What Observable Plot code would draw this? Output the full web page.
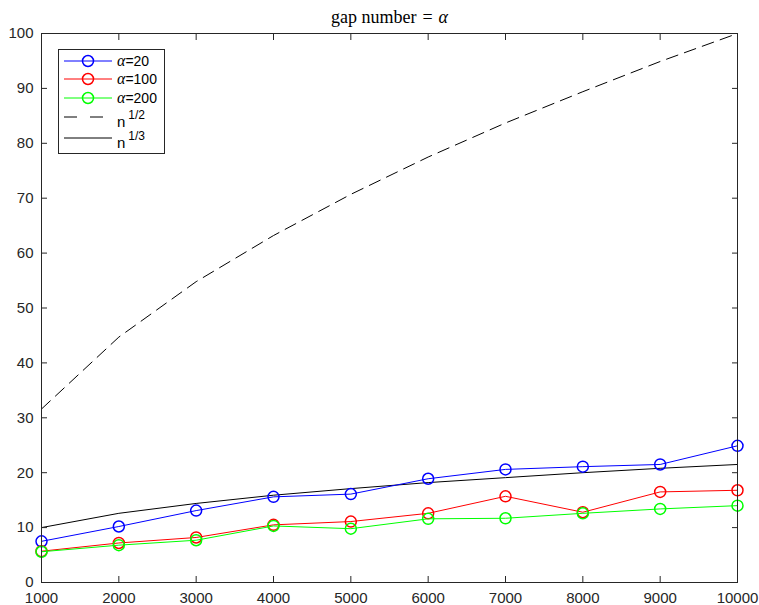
<!DOCTYPE html>
<html>
<head>
<meta charset="utf-8">
<script src="https://cdn.jsdelivr.net/npm/d3@7"></script>
<script src="https://cdn.jsdelivr.net/npm/@observablehq/plot@0.6"></script>
<style>
  html, body { margin: 0; padding: 0; background: #fff; }
  #chart { position: relative; width: 759px; height: 605px; }
</style>
</head>
<body>
<div id="chart"></div>
<script>
// ---- data ----
const ns = [1000, 2000, 3000, 4000, 5000, 6000, 7000, 8000, 9000, 10000];
const alpha20 = [7.5, 10.2, 13.1, 15.6, 16.1, 18.9, 20.6, 21.1, 21.5, 24.9];
const alpha100 = [5.7, 7.2, 8.2, 10.5, 11.1, 12.6, 15.7, 12.8, 16.5, 16.8];
const alpha200 = [5.6, 6.8, 7.7, 10.3, 9.8, 11.6, 11.7, 12.6, 13.4, 14.0];
const nHalf = [31.6, 44.7, 54.8, 63.2, 70.7, 77.5, 83.7, 89.4, 94.9, 100.0];
const nThird = [10.0, 12.6, 14.4, 15.9, 17.1, 18.2, 19.1, 20.0, 20.8, 21.5];
const xTicks = [1000, 2000, 3000, 4000, 5000, 6000, 7000, 8000, 9000, 10000];
const yTicks = [0, 10, 20, 30, 40, 50, 60, 70, 80, 90, 100];
const titleText = "gap number = α";
const seriesNames = ["α=20", "α=100", "α=200"];
const seriesColors = ["#0000ff", "#ff0000", "#00ff00"];
const curveNames = [["n", "1/2"], ["n", "1/3"]];

// ---- build rows ----
const seriesData = [alpha20, alpha100, alpha200].map((vals, i) =>
  ns.map((n, j) => ({n, v: vals[j], s: seriesNames[i]})));
const halfData = ns.map((n, j) => ({n, v: nHalf[j]}));
const thirdData = ns.map((n, j) => ({n, v: nThird[j]}));

const axisColor = "#262626";
const font = "'Liberation Sans', Arial, sans-serif";
const serif = "'Liberation Serif', 'DejaVu Serif', serif";

const marks = [
  Plot.line(halfData, {x: "n", y: "v", stroke: "black", strokeWidth: 1, strokeDasharray: "12,7"}),
  Plot.line(thirdData, {x: "n", y: "v", stroke: "black", strokeWidth: 1})
];
seriesData.forEach((d, i) => {
  marks.push(Plot.line(d, {x: "n", y: "v", stroke: seriesColors[i], strokeWidth: 1}));
  marks.push(Plot.dot(d, {x: "n", y: "v", r: 5.5, stroke: seriesColors[i], strokeWidth: 1.5, fill: "none"}));
});
marks.push(
  Plot.axisX({anchor: "bottom", ticks: xTicks, tickSize: -6, tickPadding: 16, tickFormat: d => String(d), label: null}),
  Plot.axisX({anchor: "top", ticks: xTicks, tickSize: -6, tickFormat: () => "", label: null}),
  Plot.axisY({anchor: "left", ticks: yTicks, tickSize: -6, tickPadding: 14, tickFormat: d => String(d), label: null}),
  Plot.axisY({anchor: "right", ticks: yTicks, tickSize: -6, tickFormat: () => "", label: null}),
  Plot.frame({stroke: axisColor, strokeWidth: 1}),
  Plot.text([titleText], {frameAnchor: "top", dy: -11, lineAnchor: "bottom", fontSize: 18,
    fontFamily: serif, fill: "black"})
);

const plot = Plot.plot({
  width: 759,
  height: 605,
  marginLeft: 41,
  marginRight: 22,
  marginTop: 33,
  marginBottom: 23,
  x: {domain: [1000, 10000]},
  y: {domain: [0, 100]},
  style: {fontFamily: font, fontSize: "15px", color: axisColor, background: "white", overflow: "visible"},
  marks
});
document.getElementById("chart").appendChild(plot);

// italic alpha in title
const svg = d3.select(plot);
svg.selectAll("text").filter(function() { return this.textContent === titleText; })
  .each(function() {
    const t = d3.select(this);
    t.text(null);
    t.append("tspan").text("gap number");
    t.append("tspan").attr("dx", 6).text("=");
    t.append("tspan").attr("dx", 6).attr("font-style", "italic").text("α");
  });

// ---- legend ----
const lg = svg.append("g").attr("font-family", font).attr("font-size", 14)
  .attr("fill", "black").attr("text-anchor", "start");
lg.append("rect").attr("x", 58.5).attr("y", 49.5).attr("width", 106).attr("height", 104)
  .attr("fill", "white").attr("stroke", axisColor).attr("stroke-width", 1);
const rowY = [61, 79, 98, 117, 138];
seriesNames.forEach((name, i) => {
  const y = rowY[i];
  lg.append("line").attr("x1", 64).attr("x2", 112).attr("y1", y).attr("y2", y)
    .attr("stroke", seriesColors[i]).attr("stroke-width", 1);
  lg.append("circle").attr("cx", 88).attr("cy", y).attr("r", 5.5)
    .attr("fill", "none").attr("stroke", seriesColors[i]).attr("stroke-width", 1.5);
  const t = lg.append("text").attr("x", 117).attr("y", y + 5);
  t.append("tspan").attr("font-family", serif).attr("font-style", "italic").attr("font-size", 16).text(name.slice(0, 1));
  t.append("tspan").text(name.slice(1));
});
curveNames.forEach(([base, sup], k) => {
  const y = rowY[3 + k];
  lg.append("line").attr("x1", 64).attr("x2", 112).attr("y1", y).attr("y2", y)
    .attr("stroke", "black").attr("stroke-width", 1)
    .attr("stroke-dasharray", k === 0 ? "13,13" : null);
  const t = lg.append("text").attr("x", 117).attr("y", y + 10);
  t.append("tspan").attr("font-size", 15).text(base);
  t.append("tspan").attr("dx", 3).attr("dy", -8).attr("font-size", 12).text(sup);
});
</script>
</body>
</html>
